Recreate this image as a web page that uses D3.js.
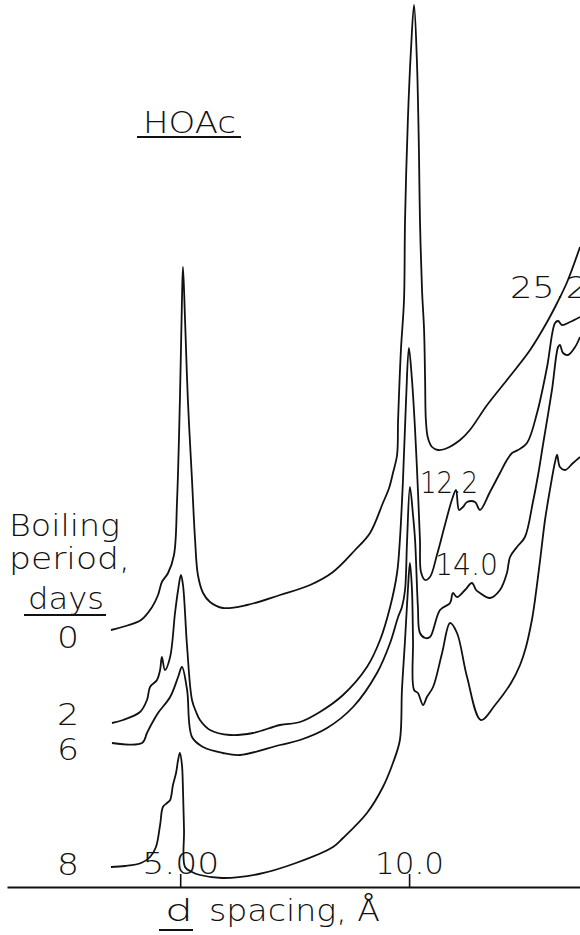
<!DOCTYPE html>
<html>
<head>
<meta charset="utf-8">
<script src="https://cdn.jsdelivr.net/npm/d3@7"></script>
<style>
  body { margin: 0; background: #fff; }
  svg { display: block; }
  text { font-family: 'DejaVu Sans', sans-serif; font-weight: 200; fill: #111; }
</style>
</head>
<body>
<script>
// x-ray diffractograms, HOAc treated, stacked by boiling period
// x = 2-theta (deg, Cu K-alpha), y = stacked intensity (arbitrary units)

const boilingDays = ['0', '2', '6', '8'];
const dTicks = [5.00, 10.0];
const tickLabels = ['5.00', '10.0'];
const peakLabels = ['25.2', '12.2', '14.0'];
const wavelength = 1.5418;

const day0 = [[20.43,51.4],[19.85,52.2],[19.26,53.4],[18.83,56.0],[18.60,58.4],[18.45,61.0],[18.21,62.8],
  [17.98,66.4],[17.86,77.4],[17.75,97.4],[17.67,117.4],[17.63,124.0],[17.55,113.4],[17.44,97.4],
  [17.28,81.4],[17.16,69.4],[17.05,62.4],[16.85,58.8],[16.58,57.0],[16.08,55.8],[15.14,56.4],
  [13.86,58.4],[12.69,60.4],[11.80,63.0],[10.94,67.4],[10.36,70.8],[9.86,76.8],[9.62,79.8],
  [9.47,82.8],[9.31,86.4],[9.27,93.4],[9.16,107.4],[9.04,117.4],[9.00,133.4],[8.89,153.4],
  [8.77,167.4],[8.65,176.4],[8.54,165.4],[8.46,147.4],[8.42,133.4],[8.34,119.4],[8.26,111.4],
  [8.22,101.4],[8.19,93.4],[8.11,89.8],[7.95,88.0],[7.72,87.4],[7.45,87.6],[6.86,89.4],
  [6.48,91.4],[5.81,96.4],[5.04,101.4],[4.14,107.4],[3.48,113.0],[3.09,116.8],[2.70,121.0],[2.20,128.0]];

const day2 = [[20.39,32.8],[19.96,33.4],[19.30,35.0],[19.03,37.4],[18.91,40.0],[18.64,41.4],[18.52,43.4],
  [18.45,46.0],[18.33,43.4],[18.13,46.0],[17.94,54.8],[17.82,59.4],[17.71,62.4],[17.63,60.4],
  [17.47,48.0],[17.28,37.4],[17.12,35.0],[16.97,33.4],[16.58,31.4],[15.80,30.4],[14.91,30.8],
  [13.86,32.4],[13.08,33.0],[12.31,35.0],[11.41,38.4],[10.48,44.0],[9.97,49.4],[9.58,56.0],
  [9.31,62.8],[9.20,69.4],[9.08,81.4],[8.96,97.4],[8.85,107.8],[8.73,101.4],[8.61,91.4],
  [8.50,79.4],[8.42,69.4],[8.38,63.0],[8.22,61.4],[8.03,62.0],[7.76,66.4],[7.45,72.4],
  [7.18,77.4],[7.02,79.4],[6.90,75.4],[6.75,76.0],[6.59,77.0],[6.28,77.0],[6.09,75.4],
  [5.70,79.0],[5.31,82.8],[5.04,85.4],[4.84,86.8],[4.61,87.4],[4.26,88.8],[3.87,94.8],
  [3.48,104.0],[3.17,112.8],[3.05,113.2],[2.90,112.4],[2.59,113.0],[2.20,114.0]];

const day6 = [[20.39,28.8],[19.22,28.8],[19.03,30.8],[18.83,32.8],[18.60,34.8],[18.13,38.0],[17.82,42.0],
  [17.67,44.0],[17.47,39.4],[17.28,30.0],[16.85,28.0],[16.08,26.8],[15.41,26.4],[13.86,28.4],
  [13.08,29.4],[12.03,31.8],[11.02,36.0],[10.09,42.8],[9.58,48.8],[9.27,54.0],[9.12,56.0],
  [9.00,59.4],[8.92,69.4],[8.81,80.0],[8.69,74.4],[8.61,69.4],[8.50,56.0],[8.42,50.8],
  [8.22,49.8],[8.03,50.0],[7.64,55.4],[7.25,56.8],[7.14,58.8],[6.98,58.0],[6.67,59.4],
  [6.40,60.8],[6.24,59.4],[6.09,58.8],[5.70,57.8],[5.31,59.4],[5.04,62.8],[4.92,66.0],
  [4.65,68.0],[4.34,70.0],[4.03,77.0],[3.83,82.4],[3.64,88.4],[3.29,99.4],[3.05,108.0],
  [2.98,108.4],[2.86,106.8],[2.67,106.4],[2.39,108.0],[2.20,110.0]];

const day8 = [[20.43,4.0],[19.88,4.2],[19.26,4.8],[18.91,6.0],[18.68,8.0],[18.52,12.4],[18.41,16.0],
  [18.25,16.8],[18.13,17.4],[18.02,20.4],[17.90,22.8],[17.82,25.4],[17.75,26.8],[17.67,24.4],
  [17.63,19.4],[17.59,11.4],[17.55,4.0],[17.28,3.0],[16.97,2.4],[16.11,1.8],[14.68,2.6],
  [13.24,4.8],[11.80,8.0],[11.41,9.8],[10.48,14.8],[9.86,20.0],[9.47,24.8],[9.20,29.4],
  [9.12,39.4],[9.00,49.4],[8.89,59.4],[8.81,64.8],[8.73,59.4],[8.69,49.4],[8.65,39.4],
  [8.50,38.8],[8.30,36.4],[8.15,38.0],[7.91,40.0],[7.56,46.8],[7.25,52.8],[6.98,50.8],
  [6.59,42.0],[6.05,33.4],[5.50,36.4],[4.88,40.8],[4.53,44.4],[4.30,48.0],[4.07,53.4],
  [3.95,57.4],[3.75,65.4],[3.56,73.4],[3.37,79.4],[3.17,85.0],[3.09,86.4],[2.98,84.0],
  [2.78,83.4],[2.47,84.8],[2.20,86.0]];

const series = [day0, day2, day6, day8];

const w = 580;
const h = 935;
const fs = 31;

function twoTheta(d){
  return 2 * Math.asin(wavelength / (2 * d)) * 180 / Math.PI;
}

const svg = d3.select('body').append('svg')
  .attr('width', w)
  .attr('height', h);

const x = d3.scaleLinear().domain([24.47, 2.2]).range([7, 580]);
const y = d3.scaleLinear().domain([0, 177]).range([887, 2]);

const line = d3.line()
  .x(d => x(d[0]))
  .y(d => y(d[1]))
  .curve(d3.curveCatmullRom.alpha(0.5));

svg.selectAll('path.trace')
  .data(series)
  .enter().append('path')
  .attr('class', 'trace')
  .attr('d', line)
  .attr('fill', 'none')
  .attr('stroke', '#111')
  .attr('stroke-width', 1.8)
  .attr('stroke-linejoin', 'round');

// axis with ticks pointing up, labels in d spacing
const axis = d3.axisTop(x)
  .tickValues(dTicks.map(twoTheta))
  .tickFormat((d, i) => tickLabels[i])
  .tickSize(13)
  .tickSizeOuter(0)
  .tickPadding(0);

const gAxis = svg.append('g')
  .attr('transform', 'translate(0,887)')
  .call(axis)
  .attr('font-size', null)
  .attr('font-family', null);
gAxis.select('.domain').attr('stroke', '#111').attr('stroke-width', 2);
gAxis.selectAll('.tick line').attr('stroke', '#111').attr('stroke-width', 1.6);
gAxis.selectAll('.tick text')
  .attr('font-size', fs)
  .attr('fill', '#111')
  .attr('textLength', (d, i) => [77, 69][i])
  .attr('lengthAdjust', 'spacingAndGlyphs');

// text helper
function label(txt, px, py, len, anchor){
  const t = svg.append('text')
    .attr('x', px).attr('y', py)
    .attr('font-size', fs)
    .text(txt);
  if (len) t.attr('textLength', len).attr('lengthAdjust', 'spacingAndGlyphs');
  if (anchor) t.attr('text-anchor', anchor);
  return t;
}
function underline(x1, x2, yy){
  svg.append('line')
    .attr('x1', x1).attr('x2', x2)
    .attr('y1', yy).attr('y2', yy)
    .attr('stroke', '#111').attr('stroke-width', 1.8);
}

label('HOAc', 143, 133, 93);
underline(137, 241, 137);

label('Boiling', 9, 536, 111).attr('font-size', 30);
label('period,', 9, 569, 121).attr('font-size', 30);
label('days', 28, 609, 76);
underline(24, 106, 615);

const dayLabelY = [648, 725, 760, 875];
boilingDays.forEach((d, i) => label(d, 68, dayLabelY[i], 22, 'middle'));

const peakPos = [[510, 298, 78], [420, 493, 58], [435, 575, 63]];
peakLabels.forEach((p, i) => label(p, peakPos[i][0], peakPos[i][1], peakPos[i][2]));

label('d', 165, 921, 28);
underline(159, 193, 930);
label('spacing, Å', 209, 921, 171);
</script>
</body>
</html>
